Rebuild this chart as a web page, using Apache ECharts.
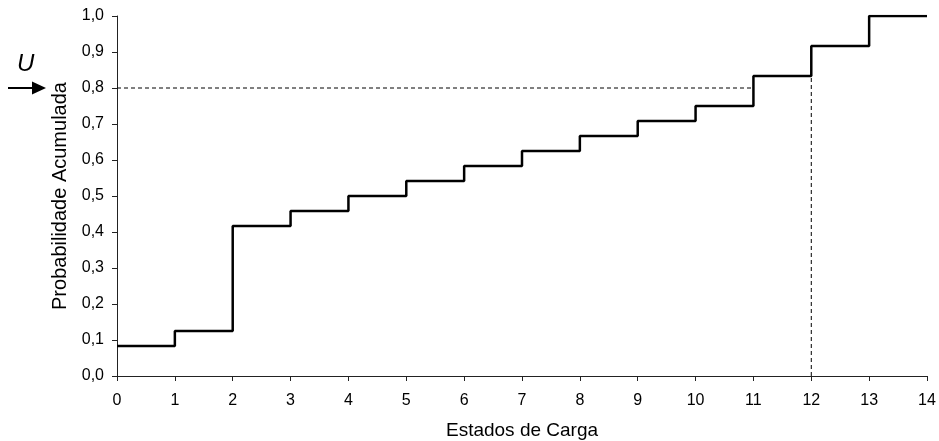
<!DOCTYPE html>
<html>
<head>
<meta charset="utf-8">
<script src="https://cdn.jsdelivr.net/npm/echarts@6/dist/echarts.min.js"></script>
<style>
  html, body { margin: 0; padding: 0; background: #fff; }
  #chart { width: 939px; height: 441px; }
</style>
</head>
<body>
<div id="chart"></div>
<script>
// Load states (x) and cumulative probability at each state
const states = [0, 1, 2, 3, 4, 5, 6, 7, 8, 9, 10, 11, 12, 13, 14];
const cumProb = [0.083, 0.125, 0.417, 0.458, 0.5, 0.542, 0.583, 0.625, 0.667, 0.708, 0.75, 0.833, 0.917, 1.0, 1.0];

// Reference level U and the state it selects
const uLevel = 0.8;
const uHitStart = 11;
const uState = 12;
const uStateLevel = 0.833;

const yTicks = [0, 0.1, 0.2, 0.3, 0.4, 0.5, 0.6, 0.7, 0.8, 0.9, 1.0];

const stepData = states.map((s, i) => [s, cumProb[i]]);
const font = 'Liberation Sans, Arial, sans-serif';

const chart = echarts.init(document.getElementById('chart'), null, { renderer: 'canvas' });
chart.setOption({
  animation: false,
  backgroundColor: '#fff',
  grid: { left: 117, right: 12, top: 16, bottom: 65, containLabel: false, outerBoundsMode: 'none' },
  xAxis: {
    type: 'value', min: 0, max: 14, interval: 1,
    name: 'Estados de Carga', nameLocation: 'middle', nameGap: 45,
    nameTextStyle: { fontFamily: font, fontSize: 19, color: '#000' },
    axisLine: { lineStyle: { color: '#222', width: 1 } },
    axisTick: { show: true, length: 5, inside: false, lineStyle: { color: '#222' } },
    axisLabel: { fontFamily: font, fontSize: 16, color: '#000', margin: 17 },
    splitLine: { show: false }
  },
  yAxis: {
    type: 'value', min: 0, max: 1, interval: 0.1,
    name: 'Probabilidade Acumulada', nameLocation: 'middle', nameGap: 46, nameRotate: 90,
    nameTextStyle: { fontFamily: font, fontSize: 20, color: '#000' },
    axisLine: { show: true, lineStyle: { color: '#222', width: 1 } },
    axisTick: { show: true, length: 5, inside: false, lineStyle: { color: '#222' } },
    axisLabel: {
      fontFamily: font, fontSize: 16, color: '#000', margin: 13,
      formatter: v => yTicks.includes(Math.round(v * 10) / 10) ? v.toFixed(1).replace('.', ',') : ''
    },
    splitLine: { show: false }
  },
  series: [
    {
      type: 'line', step: 'end', data: stepData, symbol: 'none',
      lineStyle: { color: '#000', width: 2.5 }, z: 3
    },
    {
      type: 'line', data: [[0, uLevel], [uHitStart, uLevel]], symbol: 'none',
      lineStyle: { color: '#000', width: 1, type: [4, 3] }, z: 2
    },
    {
      type: 'line', data: [[uState, 0], [uState, uStateLevel]], symbol: 'none',
      lineStyle: { color: '#000', width: 1, type: [4, 3] }, z: 2
    }
  ],
  graphic: [
    {
      type: 'text', left: 17, top: 52,
      style: { text: 'U', fontFamily: font, fontSize: 24, fontStyle: 'italic', fill: '#000' }
    },
    {
      type: 'line', shape: { x1: 8, y1: 88, x2: 34, y2: 88 },
      style: { stroke: '#000', lineWidth: 2 }
    },
    {
      type: 'polygon', shape: { points: [[32, 81.5], [46, 88], [32, 94.5]] },
      style: { fill: '#000' }
    }
  ]
});
</script>
</body>
</html>
